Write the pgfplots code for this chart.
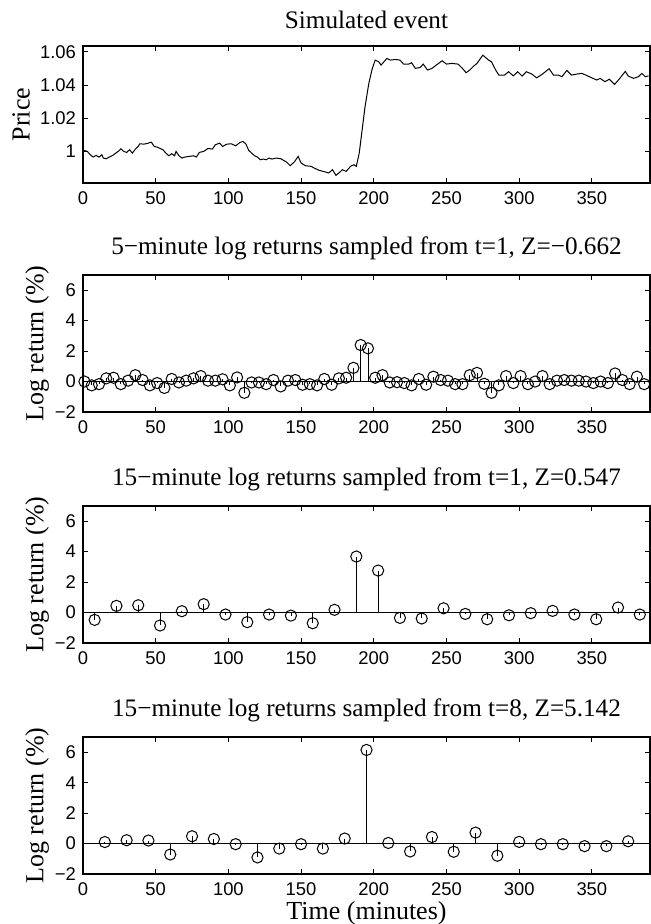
\documentclass[border=0pt]{standalone}
\usepackage{fontspec}
\setmainfont{Liberation Serif}
\setsansfont{Liberation Sans}
\usepackage{pgfplots}
\pgfplotsset{compat=1.18}
\pgfplotsset{
  mat/.style={
    scale only axis, width=283.5pt, height=68.5pt,
    xmin=0, xmax=390, xtick={0,50,...,350},
    tick align=inside, major tick length=2.6pt,
    xtick pos=both, ytick pos=both,
    axis line style={line width=0.6pt},
    every tick/.style={black, line width=0.5pt},
    tick label style={font=\sffamily\fontsize{9.2}{11}\selectfont},
    /pgf/number format/assume math mode=true,
    title style={font=\rmfamily\fontsize{12.6}{15}\selectfont, yshift=-2pt},
    label style={font=\rmfamily\fontsize{13}{15}\selectfont},
    xticklabel style={yshift=-1pt},
  },
  lr/.style={mat, ymin=-2, ymax=7, ytick={-2,0,2,4,6}, yticklabels={−2,0,2,4,6},
    ylabel={Log return (\%)},
    ylabel style={at={(axis description cs:-0.081,0.5)}, anchor=center},
  },
  stem/.style={black, line width=0.4pt, ycomb, mark=o, mark size=2.8pt, mark options={line width=0.5pt}},
  base/.style={black, line width=0.5pt, no marks},
}
\begin{document}
\begin{tikzpicture}
\path[use as bounding box] (0,0) rectangle (325pt,-462pt);
% ---------------- Price
\begin{axis}[mat, at={(41.5pt,-23pt)}, anchor=north west,
  ymin=0.981, ymax=1.0635, ytick={1,1.02,1.04,1.06}, yticklabels={1,1.02,1.04,1.06},
  title={Simulated event}, title style={yshift=1pt}, ylabel={Price},
  ylabel style={at={(axis description cs:-0.109,0.5)}, anchor=center}]
\addplot[black, line width=0.5pt, no marks] coordinates {
(0,0.9994) (1,1.0006) (3,1.0000) (5,0.9980) (7,0.9966) (9,0.9976) (11,0.9966) (13,0.9980)
(14,0.9960) (16,0.9956) (18,0.9966) (20,0.9974) (22,0.9986) (25,1.0006) (26,1.0016) (28,1.0000)
(30,0.9994) (32,1.0010) (34,0.9990) (36,1.0014) (38,1.0030) (39,1.0046) (42,1.0044) (45,1.0050)
(47,1.0056) (49,1.0030) (51,1.0026) (53,1.0018) (55,1.0010) (57,0.9990) (59,0.9974) (61,0.9986)
(63,0.9974) (64,1.0000) (66,0.9974) (68,0.9960) (70,0.9966) (73,0.9970) (76,0.9974) (78,0.9966)
(80,0.9994) (83,1.0000) (86,1.0018) (89,1.0014) (91,1.0040) (94,1.0050) (96,1.0030) (99,1.0044)
(102,1.0046) (105,1.0034) (108,1.0054) (110,1.0060) (112,1.0046) (114,1.0006) (116,0.9990) (118,0.9974)
(120,0.9966) (122,0.9950) (124,0.9954) (126,0.9950) (128,0.9960) (130,0.9954) (133,0.9960) (136,0.9956)
(140,0.9936) (142.5,0.9914) (145.5,0.9938) (148,0.9970) (150,0.9930) (153,0.9914) (157,0.9910) (159,0.9900)
(162.5,0.9886) (166,0.9878) (169,0.9870) (171.6,0.9890) (174,0.9856) (176,0.9870) (178.4,0.9890) (181,0.9880)
(184,0.9910) (186.4,0.9920) (188,0.9910) (190,0.9990) (192,1.0130) (194,1.0270) (196.6,1.0410) (199,1.0500)
(201,1.0550) (203.4,1.0540) (205,1.0520) (207,1.0540) (209,1.0560) (211.4,1.0550) (215,1.0554) (218,1.0550)
(220.5,1.0526) (224,1.0526) (226,1.0534) (228.6,1.0500) (232,1.0506) (234,1.0526) (237,1.0490) (240,1.0500)
(243,1.0520) (247,1.0546) (250,1.0526) (253.6,1.0530) (258,1.0526) (261,1.0500) (263.5,1.0474) (266,1.0490)
(268.6,1.0513) (271,1.0530) (275,1.0580) (279,1.0550) (281,1.0540) (284,1.0488) (286,1.0460) (290,1.0460)
(292.7,1.0480) (296,1.0455) (299,1.0480) (302,1.0454) (305,1.0480) (308.7,1.0466) (312,1.0443) (315.6,1.0463)
(320.6,1.0498) (323.6,1.0460) (327,1.0460) (329.4,1.0450) (332.8,1.0488) (336,1.0460) (339.7,1.0466) (343,1.0470)
(345.8,1.0460) (350,1.0443) (353.4,1.0430) (355.7,1.0440) (359,1.0420) (362,1.0435) (365.6,1.0404) (368.3,1.0430)
(373,1.0482) (375,1.0454) (378.7,1.0440) (382,1.0450) (384.4,1.0470) (386.7,1.0450) (389,1.0455)
};
\end{axis}
% ---------------- 5-minute
\begin{axis}[lr, at={(41.5pt,-137.5pt)}, anchor=north west,
  title={5−minute log returns sampled from t=1, Z=−0.662}]
\addplot[base] coordinates {(0,0) (390,0)};
\addplot[stem] coordinates {
(1,0.0) (6,-0.25) (11,-0.17) (16,0.21) (21,0.25) (26,-0.17) (31,0.06) (36,0.42) (41,0.10) (46,-0.25)
(51,-0.10) (56,-0.42) (61,0.17) (66,-0.06) (71,0.06) (76,0.21) (81,0.36) (86,0.06) (91,0.06) (96,0.15)
(101,-0.25) (106,0.27) (111,-0.74) (116,-0.06) (121,-0.06) (126,-0.17) (131,0.10) (136,-0.32) (141,0.06) (146,0.10)
(151,-0.21) (156,-0.17) (161,-0.25) (166,0.17) (171,-0.21) (176,0.21) (181,0.25) (186,0.90) (191,2.40) (196,2.18)
(201,0.25) (206,0.42) (211,-0.06) (216,-0.04) (221,-0.10) (226,-0.25) (231,0.17) (236,-0.21) (241,0.32) (246,0.10)
(251,0.06) (256,-0.17) (261,-0.17) (266,0.42) (271,0.57) (276,-0.15) (281,-0.74) (286,-0.25) (291,0.36) (296,-0.10)
(301,0.36) (306,-0.17) (311,0.00) (316,0.36) (321,-0.17) (326,0.06) (331,0.10) (336,0.06) (341,0.06) (346,0.00)
(351,-0.10) (356,0.00) (361,-0.10) (366,0.53) (371,0.10) (376,-0.17) (381,0.32) (386,-0.17)
};
\end{axis}
% ---------------- 15-minute from t=1
\begin{axis}[lr, at={(41.5pt,-253pt)}, anchor=north west,
  title={15−minute log returns sampled from t=1, Z=0.547}]
\addplot[base] coordinates {(0,0) (390,0)};
\addplot[stem] coordinates {
(8,-0.48) (23,0.44) (38,0.48) (53,-0.85) (68,0.09) (83,0.55) (98,-0.13) (113,-0.63) (128,-0.13) (143,-0.20)
(158,-0.70) (173,0.18) (188,3.68) (203,2.76) (218,-0.35) (233,-0.39) (248,0.28) (263,-0.09) (278,-0.44) (293,-0.18)
(308,-0.04) (323,0.11) (338,-0.13) (353,-0.44) (368,0.33) (383,-0.13)
};
\end{axis}
% ---------------- 15-minute from t=8
\begin{axis}[lr, at={(41.5pt,-368.5pt)}, anchor=north west,
  title={15−minute log returns sampled from t=8, Z=5.142}, xlabel={Time (minutes)},
  xlabel style={yshift=4pt}]
\addplot[base] coordinates {(0,0) (390,0)};
\addplot[stem] coordinates {
(15,0.10) (30,0.22) (45,0.20) (60,-0.72) (75,0.48) (90,0.30) (105,-0.04) (120,-0.91) (135,-0.33) (150,-0.04)
(165,-0.33) (180,0.33) (195,6.15) (210,0.04) (225,-0.52) (240,0.43) (255,-0.54) (270,0.72) (285,-0.80) (300,0.11)
(315,-0.04) (330,-0.04) (345,-0.17) (360,-0.17) (375,0.15)
};
\end{axis}
\end{tikzpicture}
\end{document}
